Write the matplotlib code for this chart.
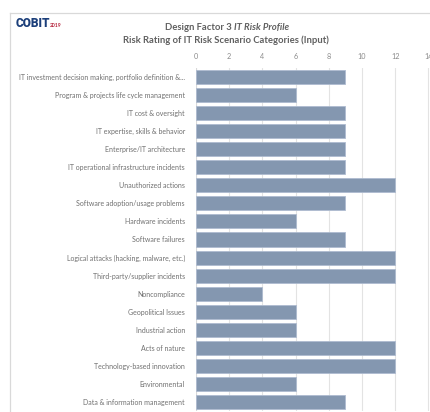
import matplotlib
matplotlib.use("Agg")
import matplotlib.pyplot as plt
from matplotlib.lines import Line2D

categories = [
    "IT investment decision making, portfolio definition &...",
    "Program & projects life cycle management",
    "IT cost & oversight",
    "IT expertise, skills & behavior",
    "Enterprise/IT architecture",
    "IT operational infrastructure incidents",
    "Unauthorized actions",
    "Software adoption/usage problems",
    "Hardware incidents",
    "Software failures",
    "Logical attacks (hacking, malware, etc.)",
    "Third-party/supplier incidents",
    "Noncompliance",
    "Geopolitical Issues",
    "Industrial action",
    "Acts of nature",
    "Technology-based innovation",
    "Environmental",
    "Data & information management",
]
values = [9, 6, 9, 9, 9, 9, 12, 9, 6, 9, 12, 12, 4, 6, 6, 12, 12, 6, 9]
xticks = [0, 2, 4, 6, 8, 10, 12, 14]

W, H = 431, 412
fig = plt.figure(figsize=(W / 100, H / 100), dpi=100)
fig.patch.set_facecolor("white")

left, right, top, bottom = 196, 431, 68, 411
ax = fig.add_axes([left / W, 1 - bottom / H, (right - left) / W, (bottom - top) / H])

y = list(range(len(categories)))
ax.barh(y, values, height=0.78, color="#8497b0", edgecolor="#aebbd0", linewidth=0.6, zorder=3)
ax.set_ylim(len(categories) - 0.5, -0.5)
ax.set_xlim(0, (right - left) / 16.6)
ax.set_xticks(xticks)
ax.set_xticklabels([str(t) for t in xticks])
ax.xaxis.tick_top()
ax.tick_params(axis="x", length=0, pad=6, labelsize=5.2, labelcolor="#8a8a8a")
ax.tick_params(axis="y", length=0, pad=8, labelsize=5.05, labelcolor="#707070")
ax.set_yticks(y)
ax.set_yticklabels(categories)
for lab in ax.get_xticklabels() + ax.get_yticklabels():
    lab.set_family("Lato")
ax.grid(axis="x", color="#e3e3e3", linewidth=0.8, zorder=0)
for s in ax.spines.values():
    s.set_visible(False)
ax.axvline(0, color="#d9d9d9", linewidth=0.8, zorder=2)

fig.add_artist(Line2D([10 / W, 1], [1 - 13 / H, 1 - 13 / H], color="#d9d9d9", linewidth=0.9))
fig.add_artist(Line2D([10 / W, 10 / W], [1 - 13 / H, 0], color="#d9d9d9", linewidth=0.9))

renderer = fig.canvas.get_renderer()

# logo
t1 = fig.text(16 / W, 1 - 27 / H, "COBIT", fontsize=8.6, fontweight="heavy", color="#1c3f7a",
              family="Roboto", va="baseline", ha="left")
bb = t1.get_window_extent(renderer)
fig.text((bb.x1 - 1) / W, 1 - 27 / H, "2019", fontsize=3.6, fontweight="bold", color="#b5233b",
         family="Lato", va="baseline", ha="left")

# titles
tcol = "#606060"
a = fig.text(0, 1 - 30 / H, "Design Factor 3 ", fontsize=6.8, fontweight="bold", color=tcol,
             family="Lato", va="baseline", ha="left")
b = fig.text(0, 1 - 30 / H, "IT Risk Profile", fontsize=6.8, fontweight="bold", style="italic",
             color=tcol, family="Lato", va="baseline", ha="left")
wa = a.get_window_extent(renderer).width
wb = b.get_window_extent(renderer).width
x0 = 227 - (wa + wb) / 2
a.set_x(x0 / W)
b.set_x((x0 + wa) / W)
fig.text(226 / W, 1 - 40 / H, "Risk Rating of IT Risk Scenario Categories (Input)", fontsize=6.8,
         fontweight="bold", color=tcol, family="Lato", va="center", ha="center")

fig.savefig("out.png", dpi=100)
